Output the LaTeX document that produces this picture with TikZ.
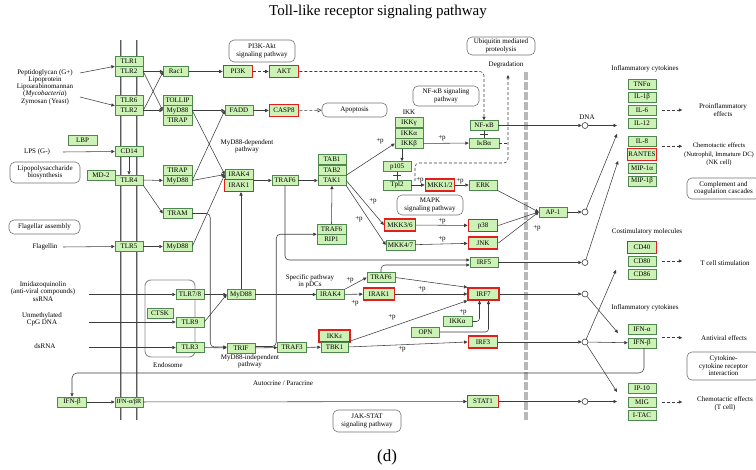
\documentclass[tikz,border=0pt]{standalone}
\usepackage{fontspec}
\setmainfont{Liberation Serif}
\usetikzlibrary{arrows.meta,calc}

\definecolor{genefill}{RGB}{205,242,182}
\definecolor{genedraw}{RGB}{80,135,80}
\definecolor{hitred}{RGB}{226,30,30}
\definecolor{wirecol}{RGB}{60,60,60}

\tikzset{
  gene/.style={draw=genedraw, fill=genefill, line width=0.5pt, minimum width=28pt,
    minimum height=10pt, inner sep=0pt, font=\fontsize{7}{7}\selectfont},
  hit/.style={gene, draw=hitred, line width=1.3pt, minimum width=29.5pt, minimum height=12pt},
  pathbox/.style={draw=black!55, fill=white, rounded corners=5pt, line width=0.6pt, align=center,
    inner sep=0pt, font=\fontsize{7}{7.4}\selectfont},
  lbl/.style={align=center, inner sep=0pt, font=\fontsize{7}{7.3}\selectfont},
  plbl/.style={inner sep=0pt, font=\fontsize{7}{7}\selectfont},
  link/.style={draw=wirecol, line width=0.55pt},
  act/.style={link, -{Triangle[length=3.4pt,width=3.2pt]}},
  dashact/.style={act, dash pattern=on 3pt off 2pt},
  dashopen/.style={link, dash pattern=on 3pt off 2pt, -{Triangle[open,length=4pt,width=4pt]}},
  membrane/.style={draw=black!65, double=black!28, double distance=1pt, line width=0.7pt},
  nucmem/.style={draw=black!28, line width=3.6pt, dash pattern=on 8pt off 2pt},
  endo/.style={draw=black!45, rounded corners=6pt, line width=0.9pt},
  knot/.style={circle, draw=wirecol, fill=white, line width=0.6pt, minimum size=6pt, inner sep=0pt}
}

\begin{document}
\begin{tikzpicture}[x=1pt,y=-1pt]
\useasboundingbox (0,0) rectangle (756,470);

\node[font=\fontsize{15}{15}\selectfont] (title) at (378,12) {Toll-like receptor signaling pathway};
\node[font=\fontsize{17}{17}\selectfont] (panel) at (387,457) {(d)};

% membranes
\draw[membrane] (121,40) -- (121,420);
\draw[membrane] (137,40) -- (137,420);
\draw[nucmem] (526,72) -- (526,420);
\draw[endo] (145,280) rectangle (195,357);

% ligands and labels
\node[lbl] (pept) at (45,87) {Peptidoglycan (G+)\\Lipoprotein\\Lipoarabinomannan\\(\textit{Mycobacteria})\\Zymosan (Yeast)};
\node[lbl] (lps) at (37,152) {LPS (G-)};
\node[lbl] (flag) at (45,247) {Flagellin};
\node[lbl] (imid) at (43,291.5) {Imidazoquinolin\\(anti-viral compounds)\\ssRNA};
\node[lbl] (cpg) at (42,319) {Unmethylated\\CpG DNA};
\node[lbl] (dsrna) at (45,346) {dsRNA};
\node[lbl] (endolbl) at (168,365) {Endosome};
\node[lbl] (mydep) at (247,146.5) {MyD88-dependent\\pathway};
\node[lbl] (pdc) at (310,281) {Specific pathway\\in pDCs};
\node[lbl] (myind) at (250,361) {MyD88-independent\\pathway};
\node[lbl] (autop) at (283,383) {Autocrine / Paracrine};
\node[lbl] (ikklbl) at (409,112) {IKK};
\node[lbl] (degr) at (506,65) {Degradation};
\node[lbl] (dna) at (587,117) {DNA};
\node[lbl] (infa) at (645,69) {Inflammatory cytokines};
\node[lbl] (proinf) at (723,110) {Proinflammatory\\effects};
\node[lbl, font=\fontsize{6.6}{8.4}\selectfont] (chema) at (719,154.5) {Chemotactic effects\\(Nutrophil, Immature DC)\\(NK cell)};
\node[lbl] (costim) at (647,232) {Costimulatory molecules};
\node[lbl] (tcell) at (725,263) {T cell stimulation};
\node[lbl] (infb) at (645,308) {Inflammatory cytokines};
\node[lbl] (antiv) at (724,338) {Antiviral effects};
\node[lbl, font=\fontsize{7}{8.4}\selectfont] (chemb) at (725,404) {Chemotactic effects\\(T cell)};

% pathway boxes
\node[pathbox, minimum width=66pt, minimum height=22pt] (pikt) at (262,51) {PI3K-Akt\\signaling pathway};
\node[pathbox, minimum width=68pt, minimum height=18pt] (ubiq) at (501,46) {Ubiquitin mediated\\proteolysis};
\node[pathbox, minimum width=66pt, minimum height=20pt] (nfpw) at (446,96) {NF-κB signaling\\pathway};
\node[pathbox, minimum width=65pt, minimum height=14pt] (apop) at (354.5,110) {Apoptosis};
\node[pathbox, minimum width=66pt, minimum height=20pt] (mapk) at (430,205) {MAPK\\signaling pathway};
\node[pathbox, minimum width=70pt, minimum height=21pt] (lpsb) at (45,172.5) {Lipopolysaccharide\\biosynthesis};
\node[pathbox, minimum width=71pt, minimum height=14pt] (flas) at (44.5,227) {Flagellar assembly};
\node[pathbox, minimum width=73pt, minimum height=21pt] (compl) at (723.5,188.5) {Complement and\\coagulation cascades};
\node[pathbox, minimum width=73pt, minimum height=28pt] (cytr) at (723.5,366) {Cytokine-\\cytokine receptor\\interaction};
\node[pathbox, minimum width=68pt, minimum height=22pt] (jak) at (367,421) {JAK-STAT\\signaling pathway};

% receptors
\node[gene] (tlr1) at (129,61.5) {TLR1};
\node[gene] (tlr2a) at (129,71.5) {TLR2};
\node[gene] (tlr6) at (129,100.5) {TLR6};
\node[gene] (tlr2b) at (129,110.5) {TLR2};
\node[gene, minimum width=29pt] (lbp) at (82.5,140.5) {LBP};
\node[gene] (cd14) at (129,151.5) {CD14};
\node[gene] (md2) at (101,175) {MD-2};
\node[gene] (tlr4) at (129,180) {TLR4};
\node[gene] (tlr5) at (129,246.5) {TLR5};
\node[gene] (tlr78) at (190,294.5) {TLR7/8};
\node[gene, minimum width=26pt] (ctsk) at (160,313) {CTSK};
\node[gene] (tlr9) at (190,322) {TLR9};
\node[gene] (tlr3) at (190,347.5) {TLR3};
\node[gene, minimum width=29pt] (ifnbl) at (72,402) {IFN-β};
\node[gene, font=\fontsize{6.3}{6.3}\selectfont] (ifnr) at (129,402) {IFN-α/βR};

% adaptors
\node[gene, minimum width=25pt] (rac1) at (176,71.5) {Rac1};
\node[gene, minimum width=29pt] (tollip) at (177.5,100) {TOLLIP};
\node[gene, minimum width=29pt] (myd88a) at (177.5,110.5) {MyD88};
\node[gene, minimum width=29pt] (tirapa) at (177.5,120.5) {TIRAP};
\node[gene, minimum width=29pt] (tirapb) at (177.5,170.5) {TIRAP};
\node[gene, minimum width=29pt] (myd88b) at (177.5,180.5) {MyD88};
\node[gene, minimum width=29pt] (tram) at (177.5,213.5) {TRAM};
\node[gene, minimum width=29pt] (myd88c) at (177.5,246.5) {MyD88};
\node[gene] (myd88d) at (241,294.5) {MyD88};
\node[gene] (trif) at (241,348) {TRIF};

% kinases
\node[hit] (pi3k) at (238,71.5) {PI3K};
\node[hit] (akt) at (284,71.5) {AKT};
\node[gene] (fadd) at (239,110.5) {FADD};
\node[hit] (casp8) at (284,110.5) {CASP8};
\node[gene] (irak4a) at (239,174.5) {IRAK4};
\node[hit] (irak1a) at (239,185.5) {IRAK1};
\node[gene, minimum width=26pt] (traf6a) at (285,180.5) {TRAF6};
\node[gene] (tab1) at (332,159.5) {TAB1};
\node[gene] (tab2) at (332,170) {TAB2};
\node[gene] (tak1) at (332,180.5) {TAK1};
\node[gene, minimum width=29pt] (traf6b) at (331.5,229) {TRAF6};
\node[gene, minimum width=29pt] (rip1) at (331.5,239.5) {RIP1};
\node[gene] (ikkg) at (409,122.5) {IKKγ};
\node[gene] (ikka) at (409,133) {IKKα};
\node[gene] (ikkb) at (409,143.5) {IKKβ};
\node[gene] (nfkb) at (484,125.5) {NF-κB};
\node[gene, minimum width=30pt] (ikba) at (484,143) {IκBα};
\node[gene] (p105) at (397,166.5) {p105};
\node[gene] (tpl2) at (397,185) {Tpl2};
\node[hit] (mkk12) at (440,185) {MKK1/2};
\node[gene] (erk) at (483,185) {ERK};
\node[hit, minimum width=31pt] (mkk36) at (400,225) {MKK3/6};
\node[gene, minimum width=29pt] (mkk47) at (400.5,245) {MKK4/7};
\node[hit] (p38) at (483,225.5) {p38};
\node[hit] (jnk) at (483,243) {JNK};
\node[gene] (ap1) at (553,212) {AP-1};
\node[gene] (irf5) at (484,262.5) {IRF5};
\node[gene] (irak4b) at (330.5,294.5) {IRAK4};
\node[gene] (traf6c) at (381,277.5) {TRAF6};
\node[hit, minimum width=31pt] (irak1b) at (379,294) {IRAK1};
\node[hit, minimum width=31pt] (irf7) at (483.5,294) {IRF7};
\node[gene, minimum width=29pt] (ikkab) at (457.5,321.5) {IKKα};
\node[gene] (opn) at (425.5,332) {OPN};
\node[gene, minimum width=29pt] (traf3) at (292,347.5) {TRAF3};
\node[hit, minimum width=31pt] (ikke) at (334.5,336) {IKKε};
\node[gene, minimum width=27pt] (tbk1) at (334.5,347) {TBK1};
\node[hit] (irf3) at (483,342) {IRF3};
\node[hit, minimum width=31pt] (stat1) at (483,401.5) {STAT1};

% products
\node[gene] (tnfa) at (642,84) {TNFα};
\node[gene] (il1b) at (642,97) {IL-1β};
\node[gene] (il6) at (642,110) {IL-6};
\node[gene] (il12) at (642,123) {IL-12};
\node[gene] (il8) at (642,141) {IL-8};
\node[hit] (rantes) at (642,154.5) {RANTES};
\node[gene] (mip1a) at (642,168) {MIP-1α};
\node[gene] (mip1b) at (642,181) {MIP-1β};
\node[hit] (cd40) at (642,247.5) {CD40};
\node[gene] (cd80) at (642,261) {CD80};
\node[gene] (cd86) at (642,274) {CD86};
\node[gene] (ifna) at (642,329) {IFN-α};
\node[gene] (ifnb) at (642,343) {IFN-β};
\node[gene] (ip10) at (642,388) {IP-10};
\node[gene] (mig) at (642,402) {MIG};
\node[gene] (itac) at (642,415) {I-TAC};

% transcription knots
\node[knot] (kdna) at (585,125.5) {};
\node[knot] (kap) at (585,212) {};
\node[knot] (kirf5) at (585,262.5) {};
\node[knot] (kirf7) at (585,294) {};
\node[knot] (kirf3) at (585,342) {};
\node[knot] (kstat) at (585,401.5) {};

% free ends
\coordinate (peptA) at (80,73);
\coordinate (peptB) at (80,97);
\coordinate (lpsA) at (63,152);
\coordinate (flagA) at (63,247);
\coordinate (imidA) at (89,294.5);
\coordinate (cpgA) at (89,322);
\coordinate (dsA) at (89,347.5);
\coordinate (degtop) at (508,75);
\coordinate (degbot) at (508,163);
\coordinate (tplup) at (415,181);
\coordinate (autoR) at (644,373);
\coordinate (cyA) at (617,125.5);
\coordinate (cyB) at (617,134);
\coordinate (cyC) at (618,161);
\coordinate (coA) at (616,270);
\coordinate (ifA) at (618,333);
\coordinate (ipA) at (617,392);
\coordinate (migA) at (617,401.5);

% ligand arrows
\draw[act] (peptA) -- (tlr2a.north west);
\draw[act] (peptB) -- (tlr6.south west);
\draw[act] (lpsA) -- (cd14.west);
\draw[act] (cd14.south) -- (tlr4.north);
\draw[act] (flagA) -- (tlr5.west);
\draw[act] (imidA) -- (tlr78.west);
\draw[act] (cpgA) -- (tlr9.west);
\draw[act] (dsA) -- (tlr3.west);

% TLR2 / TLR4 / TLR5
\draw[act] (tlr2a.east) -- (rac1.west);
\draw[act] (tlr2a.east) -- (myd88a.west);
\draw[act] (tlr2b.east) -- (rac1.west);
\draw[act] (tlr2b.east) -- (myd88a.west);
\draw[act] (rac1) -- (pi3k);
\draw[dashact] (pi3k) -- (akt);
\draw[dashact, rounded corners=4pt] (akt.east) -| (nfkb.north);
\draw[act] (myd88a) -- (fadd);
\draw[act] (fadd) -- (casp8);
\draw[dashopen] (casp8) -- (apop);
\draw[act] (myd88a.east) -- (irak4a.west);
\draw[act] (myd88b.east) -- (fadd.west);
\draw[act] (myd88b.east) -- (irak4a.west);
\draw[act] (myd88c.east) -- (irak4a.west);
\draw[act] (tlr4.east) -- (myd88b.west);
\draw[act] (tlr4.south east) -- (tram.west);
\draw[act] (tlr5) -- (myd88c);

% IRAK - TAK1 - IKK
\draw[act] (irak1a.east |- traf6a) -- (traf6a.west);
\draw[act] (traf6a) -- (tak1);
\draw[act] (tak1.north east) -- (ikkb.west);
\draw[act] (ikkb) -- (ikba);
\draw[act] ([xshift=-7pt]ikkb.south) -- ([xshift=-7pt]ikkb.south |- p105.north);
\draw[link] (nfkb) -- (ikba);
\draw[link] ($(nfkb.south)!0.5!(ikba.north)+(-4,0)$) -- +(8,0);
\draw[link] (p105) -- (tpl2);
\draw[link] ($(p105.south)!0.5!(tpl2.north)+(-4,0)$) -- +(8,0);
\draw[dashact, rounded corners=4pt] (tplup) |- (degbot) -- (degtop);
\draw[link, dash pattern=on 3pt off 2pt] (ikba.east) -- (ikba.east -| degtop);
\draw[act] (tpl2) -- (mkk12);
\draw[act] (mkk12) -- (erk);
\draw[act] (erk.south east) -- (ap1.west);
\draw[act] (tak1.east) -- (mkk36.west);
\draw[act] (tak1.south east) -- (mkk47.west);
\draw[act] (mkk36) -- (p38);
\draw[act] (mkk47) -- (jnk);
\draw[act] (p38.east) -- (ap1.west);
\draw[act] (jnk.east) -- (ap1.west);
\draw[act, rounded corners=4pt] (traf6a.south) |- ([yshift=2.5pt]irf5.west);
\draw[act] (traf6b.north) -- (tak1.south);

% endosomal TLRs
\draw[act] (tlr78) -- (myd88d);
\draw[act] (tlr9.east) -- (myd88d.west);
\draw[act] (myd88d.north) -- (myd88d.north |- irak1a.south);
\draw[act] (myd88d) -- (irak4b);
\draw[act] (irak4b.north east) -- (traf6c.west);
\draw[act] (irak4b) -- (irak1b);
\draw[act] (irak1b) -- (irf7);
\draw[act] (traf6c.east) -- (irf7.north west);
\draw[act, rounded corners=4pt] (traf6c.north) |- ([yshift=-2.5pt]irf5.west);
\draw[act, rounded corners=3pt] (ikkab.east) -| ([xshift=-4pt]irf7.south);
\draw[act, rounded corners=3pt] (opn.east) -| ([xshift=5pt]irf7.south);

% MyD88-independent
\draw[act] (tlr3) -- (trif);
\draw[act, rounded corners=4pt] (tram.east) -- ++(18,0) |- ([yshift=1pt]trif.west);
\draw[act] (trif) -- (traf3);
\draw[act, rounded corners=4pt] ([yshift=1.5pt]trif.east) -- ++(21,0) |- (traf6b.south west);
\draw[act] (traf3) -- (tbk1);
\draw[act] (tbk1.north east) -- (irf7.south west);
\draw[act] (tbk1.east) -- (irf3.west);

% nucleus
\draw[act] (nfkb) -- (kdna);
\draw[act] (ap1) -- (kap);
\draw[act] (irf5) -- (kirf5);
\draw[act] (irf7) -- (kirf7);
\draw[act] (irf3) -- (kirf3);
\draw[act] (stat1) -- (kstat);
\draw[act] (kdna) -- (cyA);
\draw[act] (kap) -- (cyB);
\draw[act] (kirf5) -- (cyC);
\draw[act] (kirf7) -- (ifA);
\draw[act] (kirf3) -- (coA);
\draw[act] (kirf3) -- (ifnb);
\draw[act] (kirf3) -- (ipA);
\draw[act] (kstat) -- (migA);

% effects
\draw[dashact] ([xshift=6pt]il6.east) -- ++(20,0);
\draw[dashact] ([xshift=6pt]il8.south east) -- ++(20,0);
\draw[dashact] ([xshift=6pt]cd80.east) -- ++(20,0);
\draw[dashact] ([xshift=6pt]ifnb.north east) -- ++(20,0);
\draw[dashact] ([xshift=6pt]mig.east) -- ++(20,0);

% autocrine loop
\draw[act, rounded corners=5pt] ([xshift=2pt]ifnb.south) -- (autoR) -| (ifnbl.north);
\draw[act] (ifnbl) -- (ifnr);
\draw[act] (ifnr) -- (stat1);

% phosphorylation marks
\node[plbl] (pa) at (380,141) {+p};
\node[plbl] (pb) at (442,138) {+p};
\node[plbl] (pc) at (420,180) {+p};
\node[plbl] (pd) at (460,181) {+p};
\node[plbl] (pe) at (373,201) {+p};
\node[plbl] (pf) at (359,219) {+p};
\node[plbl] (pg) at (442,221) {+p};
\node[plbl] (ph) at (442,239) {+p};
\node[plbl] (pi) at (537,228) {+p};
\node[plbl] (pj) at (350,280) {+p};
\node[plbl] (pk) at (355,303) {+p};
\node[plbl] (pl) at (422,289) {+p};
\node[plbl] (pm) at (463,312) {+p};
\node[plbl] (pn) at (392,317) {+p};
\node[plbl] (po) at (402,349) {+p};
\end{tikzpicture}
\end{document}
